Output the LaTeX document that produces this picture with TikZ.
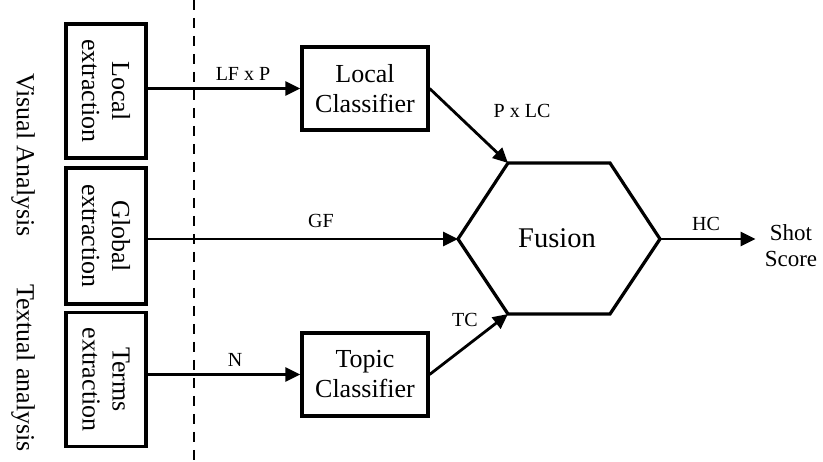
\documentclass[tikz,border=0pt]{standalone}
\usepackage{fontspec}
\setmainfont{Liberation Serif}
\usetikzlibrary{arrows.meta}
\begin{document}
\begin{tikzpicture}[x=1pt,y=-1pt,
  box/.style={draw, line width=3.2pt, inner sep=0pt, align=center, font=\fontsize{26}{30}\selectfont},
  vbox/.style={box, rotate=-90, minimum height=80pt},
  arr/.style={line width=2.8pt, -{Triangle[length=15pt,width=14pt]}},
  lbl/.style={font=\fontsize{20}{24}\selectfont, inner sep=0pt},
  side/.style={font=\fontsize{26}{30}\selectfont, rotate=-90, inner sep=0pt},
  hexline/.style={line width=3.2pt, line join=miter},
  dashline/.style={line width=2.8pt, dash pattern=on 10pt off 8pt}]
\useasboundingbox (0,0) rectangle (823,462);

% dashed separator
\coordinate (dtop) at (194,0);
\coordinate (dbot) at (194,462);
\draw[dashline] (dtop) -- (dbot);

% side labels
\node[side] (va) at (23,155) {Visual Analysis};
\node[side] (ta) at (23,368) {Textual analysis};

% extraction boxes (rotated: north anchor = right side)
\node[vbox, minimum width=134pt] (loc) at (106,91) {Local\\extraction};
\node[vbox, minimum width=136pt] (glob) at (106,236) {Global\\extraction};
\node[vbox, minimum width=134pt] (terms) at (106,379.5) {Terms\\extraction};

% classifiers
\node[box, minimum width=126pt, minimum height=83pt] (lc) at (365,88.5) {Local\\Classifier};
\node[box, minimum width=126pt, minimum height=83pt] (tc) at (365,374.5) {Topic\\Classifier};

% fusion hexagon
\coordinate (hTL) at (508,163);
\coordinate (hTR) at (610,163);
\coordinate (hR) at (660,239);
\coordinate (hBR) at (610,314);
\coordinate (hBL) at (508,314);
\coordinate (hL) at (458,239);
\draw[hexline] (hL) -- (hTL) -- (hTR) -- (hR) -- (hBR) -- (hBL) -- cycle;
\node[font=\fontsize{28.5}{34}\selectfont, inner sep=0pt] (fus) at (557,238) {Fusion};

% output
\node[font=\fontsize{23}{26}\selectfont, align=center, inner sep=0pt] (shot) at (791,246) {Shot\\Score};

% connectors
\draw[arr] (loc.north |- lc.west) -- (lc.west);
\draw[arr] (glob.north |- hL) -- (hL);
\draw[arr] (terms.north |- tc.west) -- (tc.west);
\draw[arr] (lc.east) -- (hTL);
\draw[arr] (tc.east) -- (hBL);
\draw[arr, shorten >=9pt] (hR) -- (hR -| shot.west);

% labels
\node[lbl] (lfp) at (243,74) {LF x P};
\node[lbl] (gf) at (321,221) {GF};
\node[lbl] (nl) at (235,360) {N};
\node[lbl] (pxlc) at (522,111) {P x LC};
\node[lbl] (tcl) at (465,320) {TC};
\node[lbl] (hc) at (706,224) {HC};
\end{tikzpicture}
\end{document}
